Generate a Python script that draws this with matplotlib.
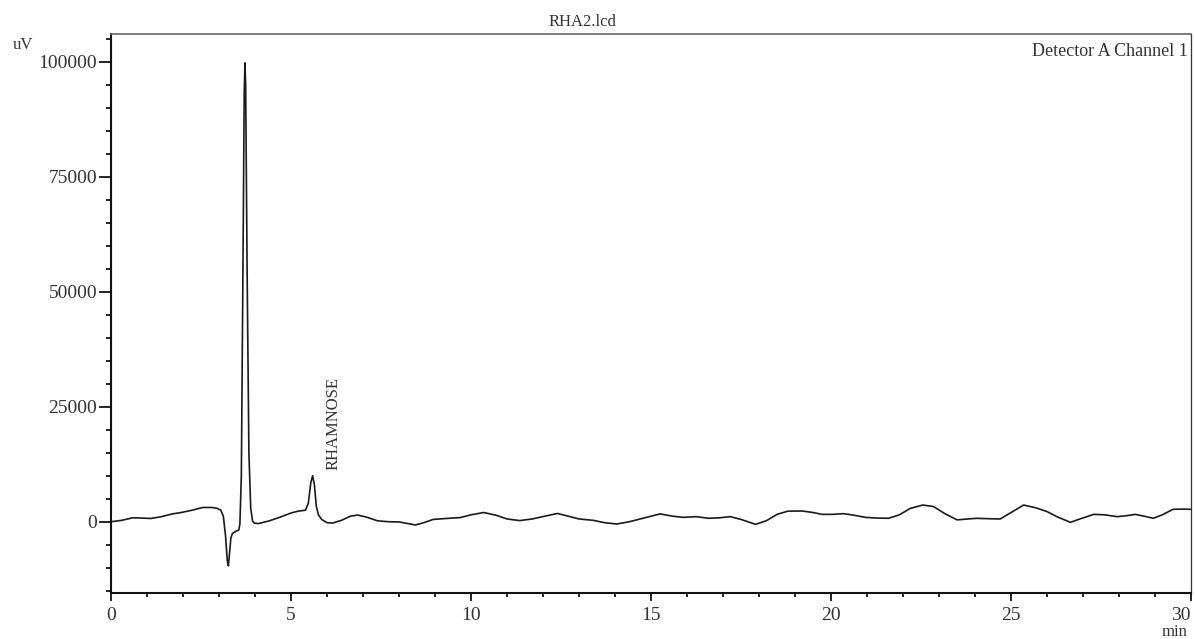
import numpy as np
import matplotlib
matplotlib.use("Agg")
import matplotlib.pyplot as plt
from matplotlib.ticker import MultipleLocator

plt.rcParams['font.family'] = ['Liberation Serif', 'DejaVu Serif']

# chromatogram: time (min) and signal (uV)
time_min = [
    0.00, 0.30, 0.60, 0.85, 1.10, 1.40, 1.70, 1.95, 2.25, 2.55, 2.80, 2.95,
    3.05, 3.12, 3.18, 3.23, 3.26, 3.29, 3.33, 3.37, 3.42, 3.49, 3.55, 3.58,
    3.62, 3.66, 3.70, 3.72, 3.74, 3.78, 3.83, 3.88, 3.93, 3.98, 4.10, 4.40,
    4.70, 5.00, 5.20, 5.40, 5.48, 5.55, 5.60, 5.65, 5.70, 5.76, 5.85, 6.00,
    6.15, 6.40, 6.65, 6.85, 7.10, 7.40, 7.70, 8.00, 8.25, 8.45, 8.65, 8.95,
    9.30, 9.70, 10.00, 10.35, 10.70, 11.00, 11.35, 11.70, 12.05, 12.40, 12.70,
    13.00, 13.40, 13.70, 14.05, 14.40, 14.80, 15.25, 15.60, 15.90, 16.25,
    16.60, 16.90, 17.20, 17.50, 17.90, 18.20, 18.50, 18.80, 19.20, 19.50,
    19.75, 20.05, 20.35, 20.65, 20.95, 21.25, 21.60, 21.90, 22.20, 22.55,
    22.85, 23.15, 23.50, 23.80, 24.05, 24.40, 24.70, 25.00, 25.35, 25.70,
    26.00, 26.30, 26.65, 26.95, 27.30, 27.60, 27.95, 28.20, 28.45, 28.70,
    28.95, 29.20, 29.50, 29.80, 30.00,
]
signal_uv = [
    0, 300, 850, 800, 700, 1100, 1700, 2000, 2500, 3100, 3100, 2900,
    2500, 1200, -3000, -8500, -9600, -7000, -3500, -2600, -2300, -2000, -1800, -500,
    10000, 50000, 93000, 99800, 95000, 55000, 15000, 3000, 200, -300, -400, 200,
    1000, 1900, 2300, 2500, 4000, 8500, 10000, 8000, 3500, 1500, 500, -200,
    -300, 300, 1200, 1450, 1000, 200, 0, -50, -400, -700, -300, 500,
    700, 900, 1500, 2000, 1400, 600, 250, 600, 1200, 1800, 1200,
    600, 300, -200, -500, 0, 800, 1700, 1200, 950, 1100,
    750, 850, 1100, 500, -570, 200, 1600, 2300, 2330, 2000,
    1600, 1600, 1750, 1400, 950, 800, 750, 1500, 2900, 3630,
    3300, 1800, 400, 600, 740, 650, 600, 2000, 3630, 3000,
    2200, 1000, -130, 700, 1600, 1500, 1100, 1300, 1600, 1200,
    740, 1500, 2700, 2750, 2700,
]

x_ticks = [0, 5, 10, 15, 20, 25, 30]
x_tick_labels = ["0", "5", "10", "15", "20", "25", "30"]

peak_name = "RHAMNOSE"
peak_time = 6.17
peak_label_y = 11200

fig = plt.figure(figsize=(11.95, 6.39), dpi=100)
ax = fig.add_axes([0.0929, 0.0720, 0.9038, 0.8748])

ax.plot(time_min, signal_uv, color='#1a1a1a', lw=1.2)

ax.set_xlim(0, 30)
ax.set_ylim(-15500, 106070)
xticks = ax.set_xticks(x_ticks, x_tick_labels)
ax.xaxis.set_minor_locator(MultipleLocator(1))
ax.yaxis.set_major_locator(MultipleLocator(25000))
ax.yaxis.set_minor_locator(MultipleLocator(5000))

ax.tick_params(axis='y', which='major', length=9, width=1.2, pad=1, labelsize=14,
               labelcolor='#333333')
ax.tick_params(axis='y', which='minor', length=3.6, width=1.2)
ax.tick_params(axis='x', which='major', length=6, width=1.2, pad=4, labelsize=14,
               labelcolor='#333333')
ax.tick_params(axis='x', which='minor', length=3, width=1.2)
# last x label sits inside the figure, flush with the right spine
xticks[-1].label1.set_horizontalalignment('right')

for side in ['left', 'bottom']:
    ax.spines[side].set_linewidth(1.5)
    ax.spines[side].set_color('#111111')
ax.spines['top'].set_linewidth(1.2)
ax.spines['top'].set_color('#666666')
ax.spines['right'].set_linewidth(0.9)
ax.spines['right'].set_color('#333333')

ax.text(peak_time, peak_label_y, peak_name, rotation=90, ha='center',
        va='bottom', fontsize=12, color='#333333')
ax.text(0.9975, 0.984, "Detector A Channel 1", transform=ax.transAxes,
        ha='right', va='top', fontsize=13, color='#333333')

fig.text(582 / 1195, 1 - 22 / 639, "RHA2.lcd", ha='center', va='center',
         fontsize=12, color='#333333')
fig.text(23 / 1195, 1 - 45 / 639, "uV", ha='center', va='center',
         fontsize=12, color='#333333')
fig.text(1175 / 1195, 1 - 632 / 639, "min", ha='center', va='center',
         fontsize=12, color='#333333')

fig.savefig("out.png", dpi=100)
